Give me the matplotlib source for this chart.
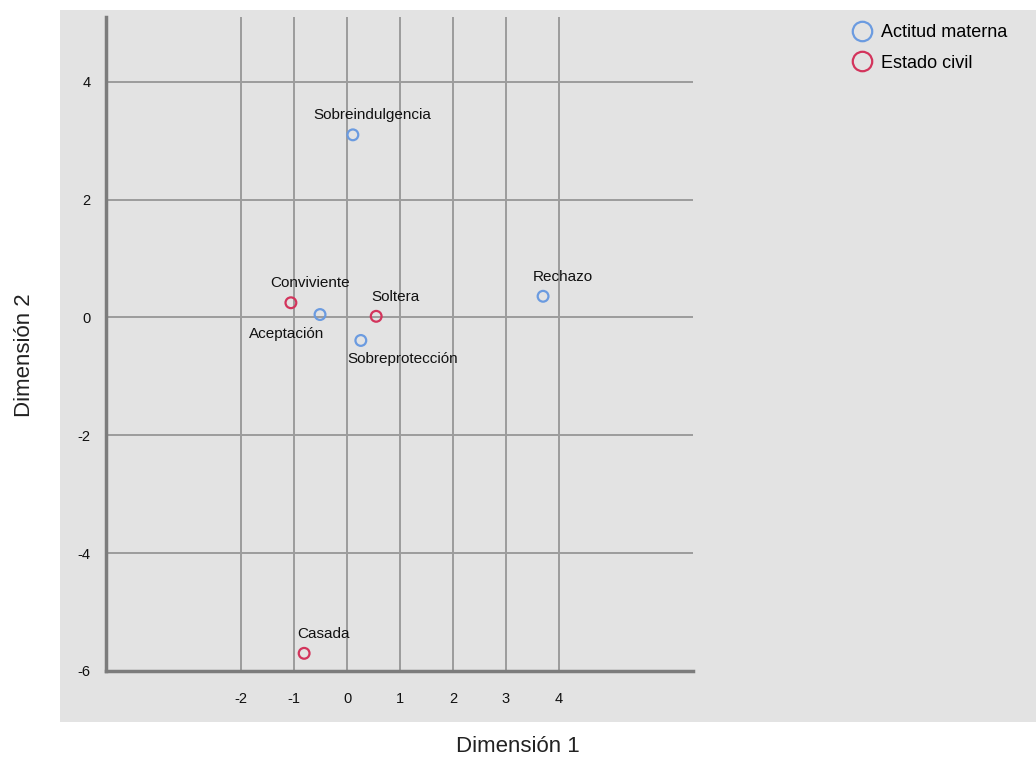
import matplotlib.pyplot as plt
from matplotlib.patches import Rectangle
from matplotlib.lines import Line2D

plt.rcParams['font.family'] = ['Liberation Sans', 'DejaVu Sans']

# datos
actitud_nombres = ['Sobreindulgencia', 'Rechazo', 'Aceptación', 'Sobreprotección']
actitud_x = [0.11, 3.70, -0.51, 0.26]
actitud_y = [3.10, 0.36, 0.05, -0.39]

civil_nombres = ['Conviviente', 'Soltera', 'Casada']
civil_x = [-1.06, 0.55, -0.81]
civil_y = [0.25, 0.02, -5.70]

xticks = [-2, -1, 0, 1, 2, 3, 4]
yticks = [-6, -4, -2, 0, 2, 4]

azul = '#6b9be0'
rojo = '#d3345c'
fondo = '#e3e3e3'

W, H = 1036, 761
fig = plt.figure(figsize=(W / 100, H / 100), dpi=100)
fig.patches.append(Rectangle((60 / W, (H - 722) / H), 1 - 60 / W, (722 - 10) / H,
                             transform=fig.transFigure, facecolor=fondo,
                             edgecolor='none', zorder=-5))

ax = fig.add_axes([106 / W, (H - 671) / H, (693 - 106) / W, (671 - 17) / H])
ax.set_zorder(2)
ax.set_facecolor(fondo)
ax.set_xlim(-4.55, 6.53)
ax.set_ylim(-6, 5.1)
ax.set_xticks(xticks)
ax.set_yticks(yticks)
ax.set_xticklabels([str(t) for t in xticks])
ax.set_yticklabels([str(t) for t in yticks])
ax.tick_params(length=0, labelsize=10.5, colors='#111111')
ax.tick_params(axis='x', pad=15)
ax.tick_params(axis='y', pad=11)
ax.grid(True, color='#9c9c9c', linewidth=1.4)
ax.set_axisbelow(True)
for s in ['top', 'right']:
    ax.spines[s].set_visible(False)
for s in ['left', 'bottom']:
    ax.spines[s].set_color('#7c7c7c')
    ax.spines[s].set_linewidth(2.5)

ax.scatter(actitud_x, actitud_y, s=60, facecolors='none', edgecolors=azul,
           linewidths=1.6, zorder=3)
ax.scatter(civil_x, civil_y, s=60, facecolors='none', edgecolors=rojo,
           linewidths=1.6, zorder=3)

desplaz = {'Aceptación': (-24, -14), 'Sobreprotección': (30, -13)}
for nombres, xs, ys in [(actitud_nombres, actitud_x, actitud_y),
                        (civil_nombres, civil_x, civil_y)]:
    for n, x, y in zip(nombres, xs, ys):
        dx, dy = desplaz.get(n, (14, 14))
        ax.annotate(n, (x, y), xytext=(dx, dy), textcoords='offset points',
                    ha='center', va='center', fontsize=11, color='#111111')

fig.text(518 / W, (H - 746) / H, 'Dimensión 1', ha='center', va='center',
         fontsize=16, color='#222222')
fig.text(25 / W, (H - 355) / H, 'Dimensión 2', ha='center', va='center',
         rotation=90, fontsize=16, color='#222222')

handles = [Line2D([], [], linestyle='none', marker='o', markersize=14,
                  markerfacecolor='none', markeredgecolor=azul, markeredgewidth=1.6),
           Line2D([], [], linestyle='none', marker='o', markersize=14,
                  markerfacecolor='none', markeredgecolor=rojo, markeredgewidth=1.6)]
fig.legend(handles, ['Actitud materna', 'Estado civil'], loc='upper left',
           bbox_to_anchor=(849 / W, (H - 24) / H), frameon=False, fontsize=13,
           handletextpad=0.35, handlelength=1.4, labelspacing=0.75,
           borderpad=0, borderaxespad=0)

fig.savefig('out.png', dpi=100)
